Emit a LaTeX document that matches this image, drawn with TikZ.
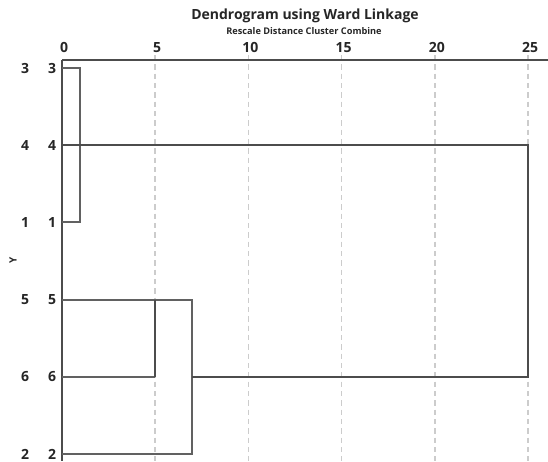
\documentclass[tikz,border=0pt]{standalone}
\usepackage{fontspec}
\setmainfont{Open Sans}
\begin{document}
\begin{tikzpicture}[x=0.75pt,y=-0.75pt,
  tree/.style={draw=black!62,line width=1.1pt},
  treebold/.style={draw=black!70,line width=1.5pt},
  grid/.style={draw=black!20,line width=1.1pt,dash pattern=on 4pt off 3pt},
  lbl/.style={font=\bfseries\fontsize{10.5}{12}\selectfont,text=black!85,inner sep=0pt},
  ticklbl/.style={font=\bfseries\fontsize{10.5}{12}\selectfont,text=black!85,inner sep=0pt,anchor=base}]
\useasboundingbox (0,0) rectangle (548,461);
\fill[white] (0,0) rectangle (548,461);

% titles
\node[font=\bfseries\fontsize{10.5}{13}\selectfont,text=black!85,inner sep=0pt] (title) at (305,16) {Dendrogram using Ward Linkage};
\node[font=\bfseries\fontsize{6.9}{8}\selectfont,text=black!85,inner sep=0pt] (subtitle) at (304,31) {Rescale Distance Cluster Combine};

% dashed grid lines and scale labels
\foreach \v/\name in {5/t5,10/t10,15/t15,20/t20,25/t25} {
  \coordinate (\name top) at ({62+\v*18.64},55);
  \coordinate (\name bot) at ({62+\v*18.64},461);
  \draw[grid] (\name top) -- (\name bot);
}
\foreach \v in {0,5,10,15,20,25}
  \node[ticklbl] (tick\v) at ({64+\v*18.64},52) {\v};

% axes
\coordinate (axL) at (62,60);
\coordinate (axR) at (548,60);
\coordinate (axB) at (62,461);
\draw[treebold] (axL) -- (axR);
\draw[treebold] (axL) -- (axB);

% case labels
\foreach \c/\y in {3/68,4/145,1/222,5/300,6/377,2/454} {
  \node[lbl] (case\c) at (25,\y) {\c};
  \node[lbl] (leaf\c) at (52,\y) {\c};
  \coordinate (p\c) at (62,\y);
}
\node[font=\bfseries\fontsize{7.5}{8}\selectfont,text=black!85,inner sep=0pt,rotate=90] (ylab) at (13,260) {Y};

% merge points
\coordinate (a3) at (80,68);
\coordinate (a1) at (80,222);
\coordinate (a4) at (528,145);
\coordinate (b6) at (528,377);
\coordinate (c5) at (155,300);
\coordinate (c6) at (155,377);
\coordinate (d5) at (192,300);
\coordinate (d6) at (192,377);
\coordinate (d2) at (192,454);

% clusters (3,1)
\draw[tree] (p3) -- (a3) -- (a1) -- (p1);
% clusters (5,6) and 2
\draw[tree] (p5) -- (d5) -- (d2) -- (p2);
\draw[tree] (p6) -- (c6);
\draw[treebold] (c5) -- (c6);
% top-level join
\draw[treebold] (p4) -- (a4) -- (b6) -- (d6);
\end{tikzpicture}
\end{document}
